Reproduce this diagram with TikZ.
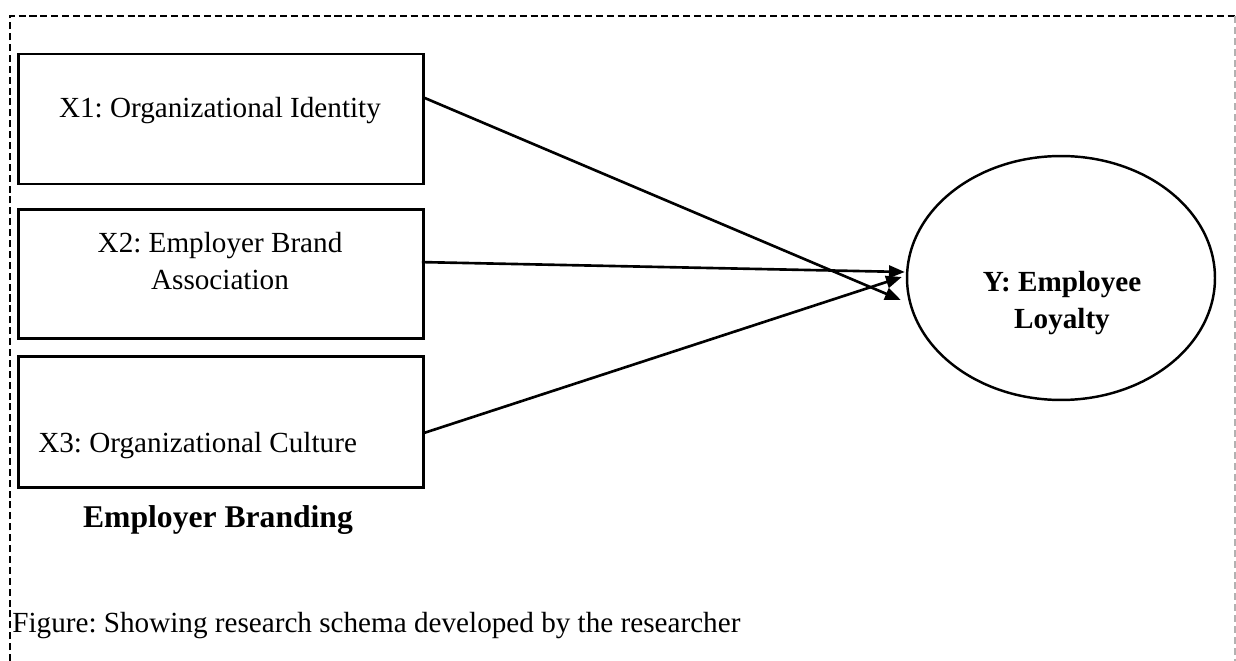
\documentclass[tikz,border=0pt]{standalone}
\usepackage{fontspec}
\setmainfont{Liberation Serif}
\frenchspacing
\usetikzlibrary{positioning,shapes.geometric,arrows.meta,calc}

\begin{document}
\begin{tikzpicture}[x=0.02cm,y=-0.02cm,
        factornode/.style={rectangle, draw=black, line width=1.5pt, minimum width=8.1cm, minimum height=2.6cm, inner sep=0pt},
        outcomenode/.style={ellipse, draw=black, line width=1.4pt, minimum width=6.16cm, minimum height=4.88cm, inner sep=0pt},
        boxtext/.style={inner sep=0pt, font=\fontsize{16.6}{21}\selectfont},
        link/.style={->, line width=1.5pt},
        >={Triangle[length=9pt,width=7pt]},
]
        \useasboundingbox (0,0) rectangle (1236,661);
        % frame
        \draw[line width=1.4pt, dash pattern=on 4pt off 2.2pt] (10,661) -- (10,16) -- (1236,16);
        \draw[gray!60, line width=0.6pt, dash pattern=on 4pt off 2.2pt] (1235,16) -- (1235,661);

        \node[factornode] (identitybox) at (221,119) {};
        \node[factornode, minimum height=2.58cm] (brandbox) [below=0.46cm of identitybox] {};
        \node[factornode, minimum height=2.62cm] (culturebox) [below=0.3cm of brandbox] {};
        \node[outcomenode] (loyalty) at (1061,278) {};

        \node[boxtext, anchor=base] (identitytext) at (220,118) {X1: Organizational Identity};
        \node[boxtext, align=center] (brandtext) at (220,261) {X2: Employer Brand\\Association};
        \node[boxtext, anchor=base west] (culturetext) at (38,453) {X3: Organizational Culture};
        \node[inner sep=0pt, anchor=base, font=\fontsize{18}{22}\selectfont\bfseries] (brandinglabel) at (218,527) {Employer Branding};
        \node[boxtext, align=center, font=\fontsize{16.6}{21}\selectfont\bfseries] (loyaltytext) at (1062,303) {Y: Employee\\Loyalty};
        \node[boxtext, anchor=base west] (caption) at (12,632) {Figure: Showing research schema developed by the researcher};

        \draw[link] ($(identitybox.east)+(0,-21)$) -- ($(loyalty.west)+(-5,22)$);
        \draw[link] ($(brandbox.east)+(-3,-12)$) -- ($(loyalty.west)+(-1,-6)$);
        \draw[link] ($(culturebox.east)+(0,11)$) -- ($(loyalty.west)+(-4,-1)$);
\end{tikzpicture}
\end{document}
